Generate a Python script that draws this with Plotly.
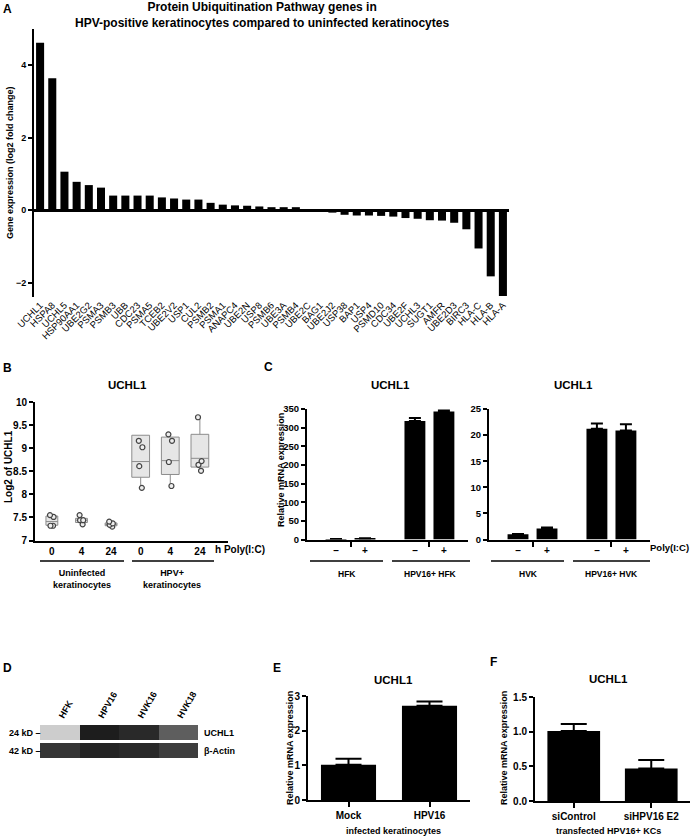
import plotly.graph_objects as go

W, H = 694, 839
FONT = "Liberation Sans, Arial, sans-serif"

# ---- Panel A: log2 fold change per gene
genes = ["UCHL1", "HSPA8", "UCHL5", "HSP90AA1", "UBE2G2", "PSMA3", "PSMB3", "UBB", "CDC23",
         "PSMA5", "TCEB2", "UBE2V2", "USP1", "CUL2", "PSMB2", "PSMA1", "ANAPC4", "UBE2N",
         "USP8", "PSMB6", "UBE3A", "PSMB4", "UBE2C", "BAG1", "UBE2J2", "USP38", "BAP1",
         "USP4", "PSMD10", "CDC34", "UBE2F", "UCHL3", "SUGT1", "AMFR", "UBE2D3", "BIRC3",
         "HLA-C", "HLA-B", "HLA-A"]
log2_fc = [4.62, 3.64, 1.06, 0.78, 0.69, 0.62, 0.40, 0.40, 0.40, 0.40, 0.35, 0.32, 0.29,
           0.29, 0.20, 0.15, 0.13, 0.12, 0.10, 0.08, 0.08, 0.08, 0.02, -0.02, -0.07, -0.13,
           -0.15, -0.15, -0.16, -0.18, -0.22, -0.24, -0.28, -0.29, -0.35, -0.53, -1.06,
           -1.83, -2.37]

# ---- Panel B: log2 UCHL1 box plots
b_hours = ["0", "4", "24", "0", "4", "24"]
b_points = [
    [7.55, 7.51, 7.32, 7.32],
    [7.55, 7.44, 7.44, 7.35],
    [7.41, 7.37, 7.34, 7.30],
    [9.16, 9.02, 8.61, 8.14],
    [9.30, 9.16, 8.70, 8.18],
    [9.67, 8.72, 8.64, 8.51],
]
b_q1 = [7.33, 7.39, 7.32, 8.37, 8.43, 8.59]
b_median = [7.41, 7.44, 7.35, 8.71, 8.73, 8.78]
b_q3 = [7.53, 7.48, 7.38, 9.28, 9.24, 9.30]

# ---- Panel C: qPCR with / without Poly(I:C)
c_poly = ["–", "+", "–", "+"]
c_hfk_mean = [1.0, 3.0, 318, 343]
c_hfk_err = [0.3, 0.6, 8, 3]
c_hvk_mean = [1.0, 2.1, 21.2, 20.9]
c_hvk_err = [0.05, 0.2, 1.0, 1.2]

# ---- Panel D: western blot band intensity
d_lanes = ["HFK", "HPV16", "HVK16", "HVK18"]
d_rows = ["β-Actin", "UCHL1"]
d_intensity = [[0.85, 0.92, 0.90, 0.82],
               [0.12, 0.95, 0.90, 0.68]]

# ---- Panel E / F
e_groups = ["Mock", "HPV16"]
e_mean = [1.02, 2.72]
e_err = [0.17, 0.12]
f_groups = ["siControl", "siHPV16 E2"]
f_mean = [1.01, 0.47]
f_err = [0.10, 0.12]


def px(x):
    return x / W


def py(y):
    return 1 - y / H


def tfont(size=10, bold=True):
    return dict(family=FONT, size=size, color="black", weight="bold" if bold else "normal")


def yaxis(top, bottom, rng, anchor, size=10, **kw):
    d = dict(domain=[py(bottom), py(top)], range=rng, anchor=anchor, showline=True,
             linecolor="black", linewidth=2, ticks="outside", ticklen=4, tickwidth=2,
             tickcolor="black", showgrid=False, zeroline=False, tickfont=tfont(size),
             automargin=False, fixedrange=True)
    d.update(kw)
    return d


def xaxis(x0, x1, anchor, **kw):
    d = dict(domain=[px(x0), px(x1)], anchor=anchor, showline=True, linecolor="black",
             linewidth=2, showgrid=False, zeroline=False, tickfont=tfont(10),
             automargin=False, fixedrange=True)
    d.update(kw)
    return d


fig = go.Figure()

# A
fig.add_trace(go.Bar(x=genes, y=log2_fc, marker_color="black", marker_line_width=0,
                     xaxis="x", yaxis="y", showlegend=False))

# B
for i, pts in enumerate(b_points):
    w = 0.4 if i < 3 else 0.6
    fig.add_trace(go.Box(x=[i], q1=[b_q1[i]], median=[b_median[i]], q3=[b_q3[i]],
                         lowerfence=[min(min(pts), b_q1[i])],
                         upperfence=[max(max(pts), b_q3[i])], width=w,
                         fillcolor="#e6e6e6", line=dict(color="#8c8c8c", width=1),
                         whiskerwidth=0, boxpoints=False, xaxis="x2", yaxis="y2",
                         showlegend=False))
    fig.add_trace(go.Box(x=[i] * len(pts), y=pts, boxpoints="all", jitter=0.5, pointpos=0,
                         width=0.3, fillcolor="rgba(0,0,0,0)",
                         line=dict(color="rgba(0,0,0,0)", width=0),
                         marker=dict(size=5, color="#eeeeee",
                                     line=dict(color="#444444", width=1.2)),
                         xaxis="x2", yaxis="y2", showlegend=False))

# C
c_pos = [0, 1, 2.72, 3.72]
for mean, err, xa, ya in [(c_hfk_mean, c_hfk_err, "x3", "y3"),
                          (c_hvk_mean, c_hvk_err, "x4", "y4")]:
    fig.add_trace(go.Bar(x=c_pos, y=mean, width=0.72, marker_color="black",
                         marker_line_width=0,
                         error_y=dict(type="data", array=err, symmetric=False,
                                      arrayminus=[0] * len(err), color="black",
                                      thickness=2, width=6),
                         xaxis=xa, yaxis=ya, showlegend=False))

# D blot
fig.add_trace(go.Heatmap(x=d_lanes, y=d_rows, z=d_intensity, zmin=0, zmax=1,
                         colorscale=[[0, "#e2e2e2"], [0.5, "#8a8a8a"], [1, "#111111"]],
                         showscale=False, ygap=3, xgap=0, xaxis="x5", yaxis="y5",
                         hoverinfo="skip"))

# E, F
for groups, mean, err, xa, ya in [(e_groups, e_mean, e_err, "x6", "y6"),
                                  (f_groups, f_mean, f_err, "x7", "y7")]:
    fig.add_trace(go.Bar(x=groups, y=mean, width=0.68, marker_color="black",
                         marker_line_width=0,
                         error_y=dict(type="data", array=err, symmetric=False,
                                      arrayminus=[0] * len(err), color="black",
                                      thickness=2, width=13),
                         xaxis=xa, yaxis=ya, showlegend=False))

c_minor = dict(tickmode="array", tickvals=[0.5, 3.22], ticks="outside", ticklen=5,
               tickwidth=2, tickcolor="black")

fig.update_layout(
    width=W, height=H, margin=dict(l=0, r=0, t=0, b=0, autoexpand=False),
    paper_bgcolor="white", plot_bgcolor="white", bargap=0.34,
    font=dict(family=FONT, color="black"),
    # A
    xaxis=dict(domain=[px(34), px(509)], anchor="y", type="category", tickangle=-45,
               showline=False, ticks="", tickfont=tfont(9.5, bold=False), showgrid=False,
               automargin=False, fixedrange=True),
    yaxis=yaxis(29, 297, [-2.4, 5], "x", size=9, tickvals=[-2, 0, 2, 4],
                zeroline=True, zerolinecolor="black", zerolinewidth=2.5),
    # B
    xaxis2=xaxis(35, 228, "y2", range=[-0.57, 5.95], tickvals=list(range(6)),
                 ticktext=b_hours, ticks=""),
    yaxis2=yaxis(402, 540.5, [7, 10], "x2", tickvals=[7, 7.5, 8, 8.5, 9, 9.5, 10],
                 ticktext=["7", "7.5", "8", "8.5", "9", "9.5", "10"]),
    # C
    xaxis3=xaxis(307, 468, "y3", range=[-1, 4.55], tickvals=c_pos, ticktext=c_poly,
                 ticks="", minor=c_minor),
    yaxis3=yaxis(409, 539.5, [0, 350], "x3", size=9.5, dtick=50),
    xaxis4=xaxis(489, 650, "y4", range=[-1, 4.55], tickvals=c_pos, ticktext=c_poly,
                 ticks="", minor=c_minor),
    yaxis4=yaxis(409, 539.5, [0, 25], "x4", size=9.5, dtick=5),
    # D
    xaxis5=dict(domain=[px(40), px(198)], anchor="y5", side="top", tickangle=-60,
                showline=False, ticks="", showgrid=False, tickfont=tfont(9),
                automargin=False, fixedrange=True),
    yaxis5=dict(domain=[py(760), py(724)], anchor="x5", showticklabels=False,
                showline=False, ticks="", showgrid=False, automargin=False, fixedrange=True),
    # E
    xaxis6=xaxis(308, 470, "y6", ticks="outside", ticklen=5, tickwidth=2,
                 tickcolor="black", range=[-0.5, 1.5]),
    yaxis6=yaxis(696, 800, [0, 3], "x6", dtick=1),
    # F
    xaxis7=xaxis(535, 690, "y7", ticks="outside", ticklen=5, tickwidth=2,
                 tickcolor="black", range=[-0.5, 1.5]),
    yaxis7=yaxis(697, 801, [0, 1.5], "x7", dtick=0.5, tickformat=".1f"),
)

ann = []


def text(x, y, s, size=10, bold=True, angle=0, xanchor="center"):
    ann.append(dict(x=px(x), y=py(y), xref="paper", yref="paper", text=s, showarrow=False,
                    font=tfont(size, bold), textangle=angle, xanchor=xanchor,
                    yanchor="middle"))


# panel letters
for letter, x, y in [("A", 7, 9), ("B", 7, 368), ("C", 268, 367), ("D", 7, 668),
                     ("E", 277, 668), ("F", 493, 662)]:
    text(x, y, letter, size=12)

text(262, 15, "Protein Ubiquitination Pathway genes in<br>"
     "HPV-positive keratinocytes compared to uninfected keratinocytes", size=12)
text(10, 163, "Gene expression (log2 fold change)", size=9, angle=-90)

# B
text(128, 385, "UCHL1", size=11.5)
text(8, 467, "Log2 of UCHL1", size=10, angle=-90)
text(213, 549, "h Poly(I:C)", size=10, xanchor="left")
text(82, 579, "Uninfected<br>keratinocytes", size=9)
text(172, 579, "HPV+<br>keratinocytes", size=9)

# C
text(390, 385, "UCHL1", size=11.5)
text(573, 385, "UCHL1", size=11.5)
text(281, 470, "Relative mRNA expression", size=9, angle=-90)
text(669, 547, "Poly(I:C)", size=9.5)
text(347, 574, "HFK", size=8.5)
text(430, 574, "HPV16+ HFK", size=8.5)
text(528, 574, "HVK", size=8.5)
text(611, 574, "HPV16+ HVK", size=8.5)

# D
text(7, 733, "24 kD –", size=9, xanchor="left")
text(7, 751, "42 kD –", size=9, xanchor="left")
text(202, 733, "UCHL1", size=9, xanchor="left")
text(202, 751, "β-Actin", size=9, xanchor="left")

# E, F
text(393, 680, "UCHL1", size=11.5)
text(290, 748, "Relative mRNA expression", size=9, angle=-90)
text(393, 831, "infected keratinocytes", size=9)
text(608, 679, "UCHL1", size=11.5)
text(504, 748, "Relative mRNA expression", size=9, angle=-90)
text(608, 831, "transfected HPV16+ KCs", size=9)

fig.update_layout(annotations=ann)

# group underline brackets below the axes
shapes = []
for x0, x1 in [(40, 124), (132, 214), (310, 383), (392, 470), (491, 564), (573, 650)]:
    shapes.append(dict(type="line", xref="paper", yref="paper", x0=px(x0), x1=px(x1),
                       y0=py(561), y1=py(561), line=dict(color="black", width=1.5)))
fig.update_layout(shapes=shapes)

# the page's default body margin would push the figure 8px off the window
fig.write_html("out.html", config={"displayModeBar": False},
               post_script="document.body.style.margin='0px';")
